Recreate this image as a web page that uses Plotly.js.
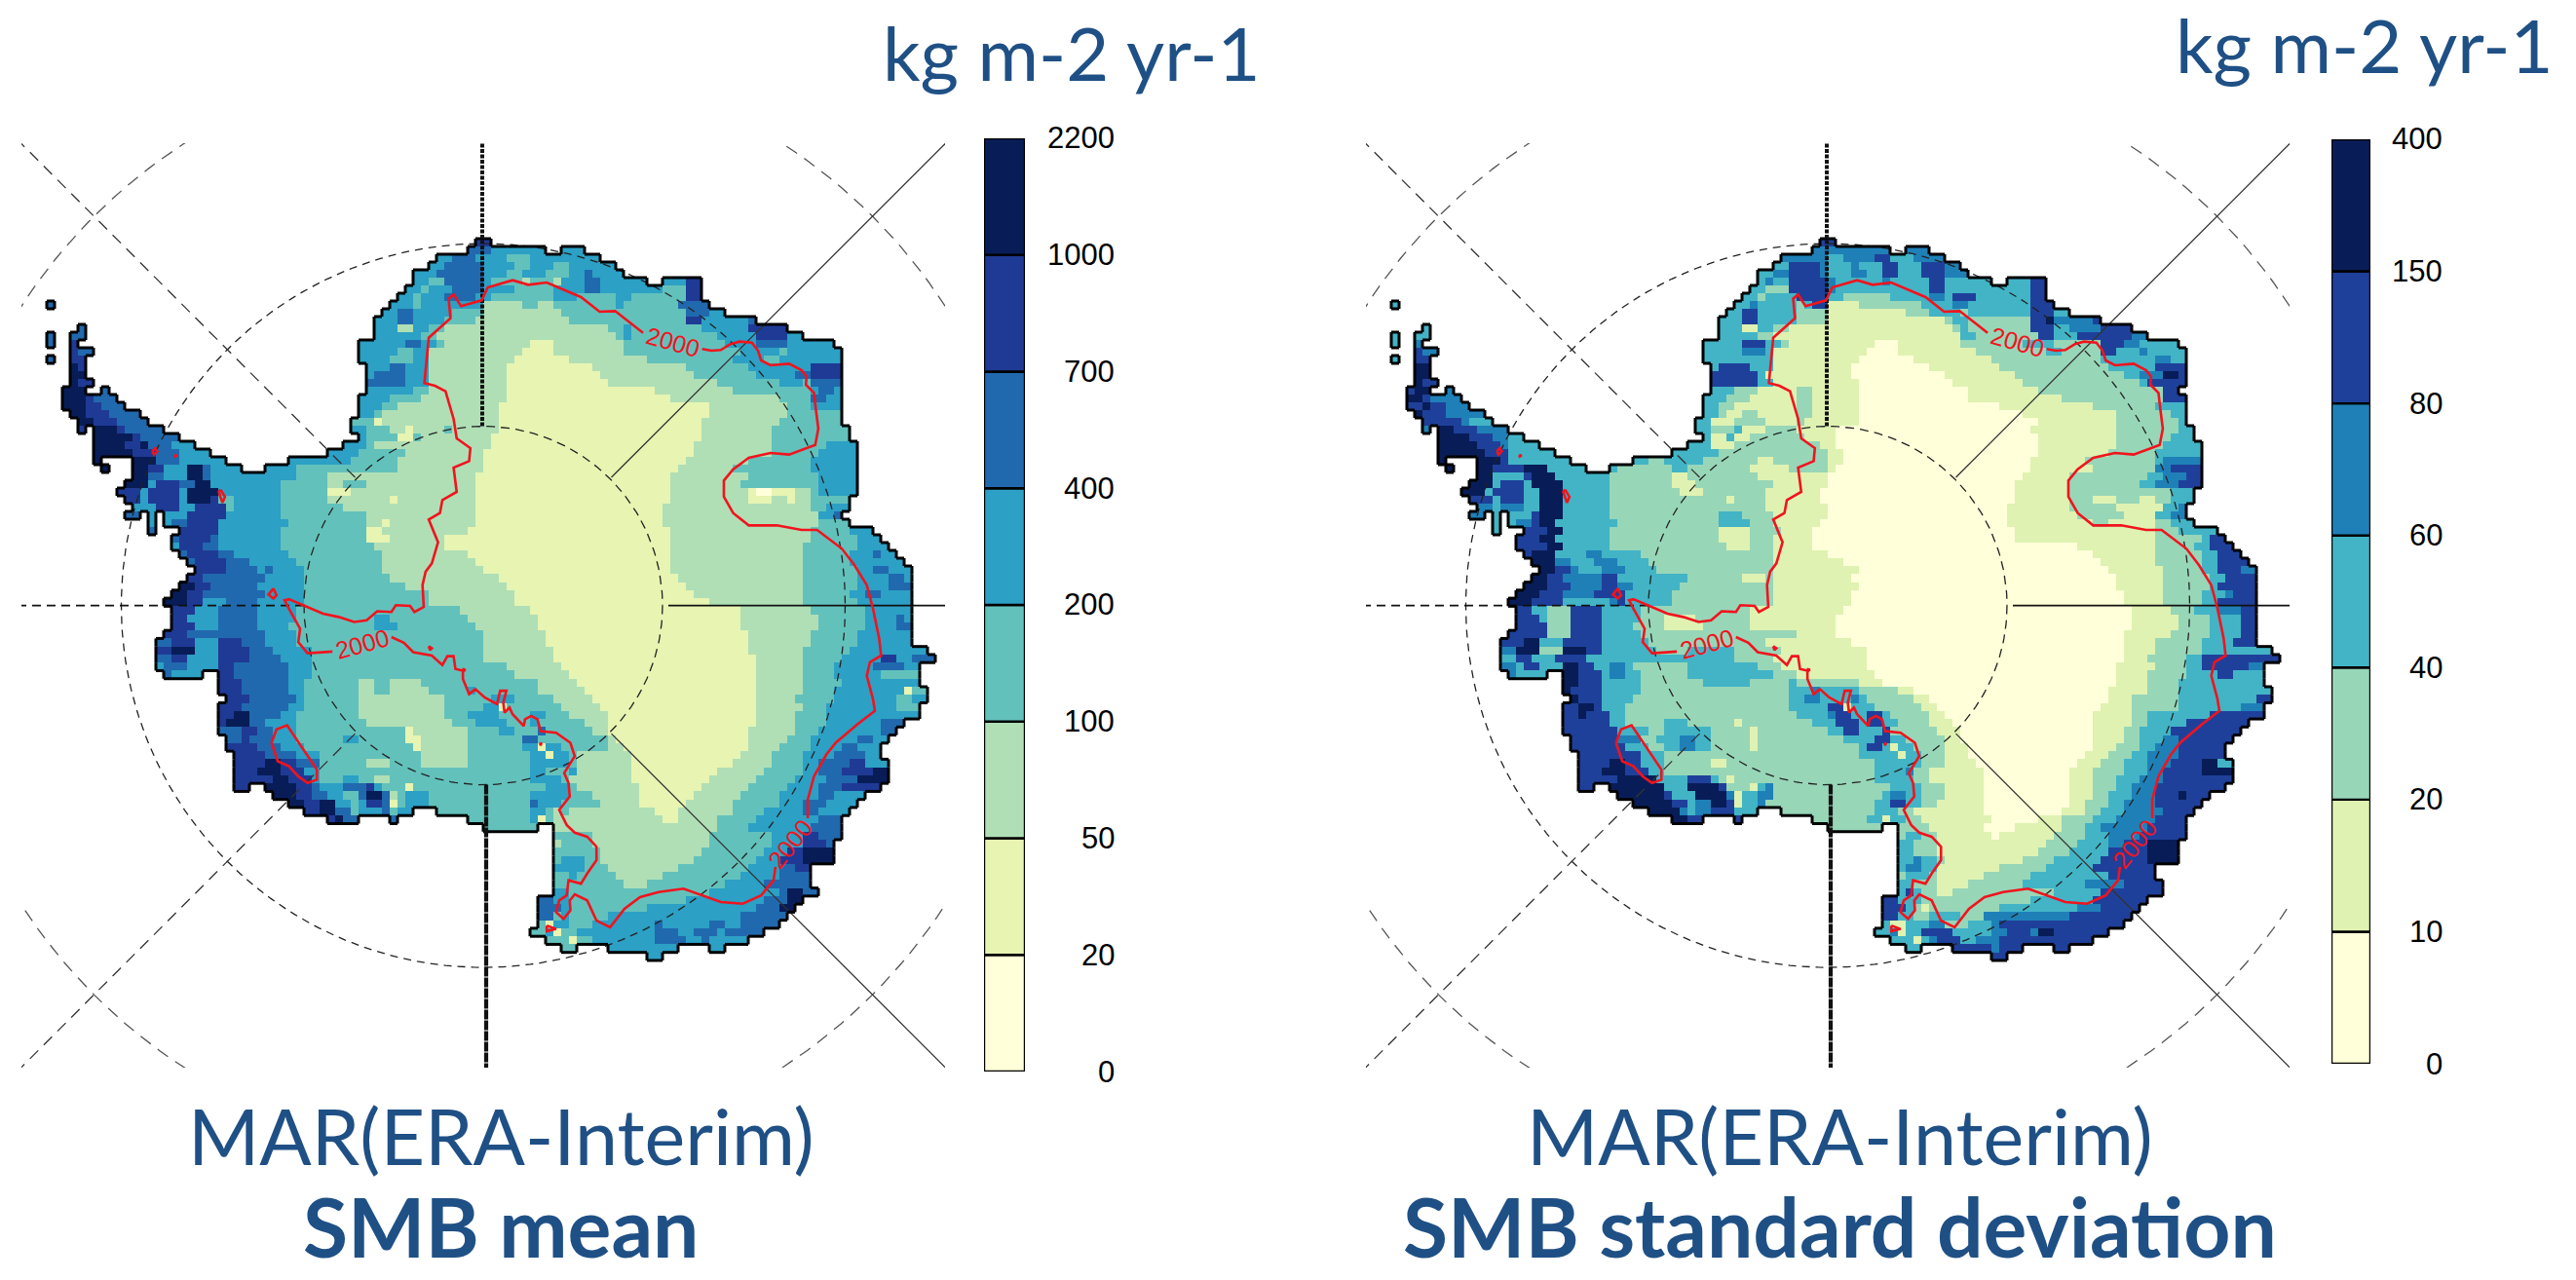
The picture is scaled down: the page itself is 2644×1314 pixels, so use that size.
<!DOCTYPE html>
<html><head><meta charset="utf-8">
<script src="https://cdn.plot.ly/plotly-3.0.1.min.js"></script>
<style>html,body{margin:0;padding:0;background:#fff}#g{width:2644px;height:1314px}</style></head>
<body><div id="g"></div>
<script>
// Each row: start column, then pairs "class endColumn"; class x = no ice
const rowsMean = [
"61 6 63","60 5 63 4 70 x 72 4 75","56 4 58 5 61 4 65 3 68 4 77","55 4 57 5 62 4 66 3 68 4 71 3 73 4 79",
"53 4 56 5 62 4 65 3 67 4 70 3 73 4 75 5 76 4 80","53 4 55 3 57 5 62 4 63 3 67 2 68 3 71 2 72 4 75 5 77 4 83 x 85 4 88 6 90",
"52 4 54 3 55 4 58 5 62 4 66 3 71 4 75 5 77 4 85 3 88 6 90","51 4 53 3 54 4 57 5 61 4 63 3 71 4 74 3 79 4 81 3 88 6 90",
"6 5 7 x 50 4 53 3 54 4 62 2 67 3 69 2 71 3 79 4 80 3 87 5 91","49 4 51 5 53 4 58 3 62 2 72 3 88 5 91 4 93",
"48 4 51 5 53 4 57 3 61 2 73 3 88 6 90 4 96 5 97","10 5 11 x 48 4 51 2 53 4 55 3 57 2 78 3 80 4 81 3 90 4 96 6 101",
"6 5 7 x 9 5 11 x 48 4 54 3 56 2 79 3 80 4 81 3 92 4 97 6 101 4 103","6 5 7 x 9 6 10 x 46 4 52 5 54 4 56 3 57 2 68 1 71 2 80 3 93 4 97 5 101 4 107",
"9 6 10 5 12 x 46 4 51 3 53 4 55 2 67 1 71 2 80 3 95 4 100 3 101 4 108","6 5 7 x 9 6 11 x 46 4 50 3 53 4 55 2 66 1 73 2 83 3 94 4 98 3 100 4 108",
"9 7 10 6 11 x 47 4 50 5 52 4 55 2 65 1 76 2 88 3 96 4 104 6 108","9 7 11 x 47 4 48 5 52 4 55 2 65 1 77 2 89 3 97 4 102 5 104 6 108",
"9 7 10 6 12 x 47 5 52 4 55 2 65 1 78 2 92 3 100 4 103 3 104 5 108","8 7 11 x 13 5 14 x 47 4 53 3 55 2 65 1 84 2 94 3 104 4 105 5 107 4 108",
"8 7 11 6 12 5 15 x 46 4 50 3 54 2 65 1 86 2 100 3 104 5 106 4 108","8 7 11 6 13 5 16 x 46 4 49 3 51 2 64 1 91 2 101 3 104 4 108",
"9 7 11 6 14 5 18 x 46 4 48 3 49 2 64 1 91 2 101 3 108","10 7 12 6 15 5 19 x 45 3 48 1 49 2 64 1 90 2 100 3 108",
"10 6 11 x 12 7 15 6 16 5 21 x 45 4 47 3 50 2 52 1 53 2 57 3 58 2 64 1 90 2 99 3 109","12 7 17 6 18 5 23 x 46 4 47 3 51 1 53 3 54 2 63 1 90 2 99 3 109",
"12 7 16 6 18 7 19 5 22 4 25 x 44 4 47 3 48 2 63 1 89 2 99 3 106 4 110","12 7 17 6 20 5 23 4 27 x 42 4 46 3 52 2 62 1 89 2 99 3 105 4 110",
"12 7 13 x 17 7 20 5 23 4 29 x 37 4 45 3 51 2 62 1 88 2 96 3 104 4 110","13 7 14 x 17 7 19 6 21 4 24 7 26 5 27 4 31 x 34 4 38 3 51 2 62 1 87 2 94 3 104 4 110",
"17 7 19 5 21 4 24 7 26 5 27 4 38 3 42 2 61 1 86 2 96 3 105 4 110","16 7 19 4 20 6 23 5 25 7 27 4 36 3 42 2 44 3 47 2 61 1 86 2 95 3 105 4 110",
"15 6 18 4 19 6 23 4 24 7 28 4 36 3 42 1 45 2 61 1 86 2 96 1 97 0 99 1 102 2 104 3 105 4 110","16 6 18 4 19 6 23 4 24 7 27 6 28 3 30 4 36 3 42 2 50 1 51 2 61 1 86 2 96 1 99 2 101 1 102 2 104 3 109",
"17 4 20 6 23 4 25 6 29 3 30 4 36 3 44 2 61 1 85 2 104 3 106 4 109","16 5 18 x 19 4 20 x 21 4 24 6 29 4 36 3 47 2 61 1 85 2 105 4 107 5 108",
"19 4 20 x 21 4 22 5 24 6 28 4 37 3 47 2 49 1 50 2 61 1 85 2 105 3 109","19 5 20 x 23 6 28 4 36 3 47 1 49 2 60 1 86 2 104 3 109 4 112",
"22 5 23 6 27 5 28 4 36 3 47 1 50 2 57 1 86 2 104 3 110 4 113","22 4 23 6 26 5 28 4 36 3 48 2 57 1 86 2 103 3 110 4 114",
"23 5 24 6 28 5 30 4 37 3 49 2 60 1 86 2 103 3 109 4 112 5 113 4 115","24 5 25 6 29 5 32 4 38 3 49 2 61 1 86 2 103 3 109 4 116",
"25 6 29 5 33 4 34 5 35 4 39 3 49 2 62 1 86 2 103 3 110 4 112 5 114 4 117","24 6 26 5 34 4 39 3 50 2 64 1 87 2 103 3 110 4 114 5 116 4 117",
"23 7 25 6 27 5 33 4 39 3 52 2 65 1 88 2 103 3 110 4 114 5 117","22 7 24 6 26 5 34 4 39 3 55 2 66 1 89 2 103 3 109 4 111 5 113 4 117",
"21 7 24 6 26 4 29 5 33 4 39 3 55 2 66 1 91 2 103 3 110 4 117","22 6 25 4 28 5 33 4 38 3 59 2 68 1 95 2 104 3 111 4 117",
"22 6 24 4 28 5 33 4 38 3 48 4 50 3 60 2 69 1 95 2 105 3 111 4 115 5 116 4 117","22 6 25 4 28 5 33 4 37 3 48 4 51 3 61 2 69 1 95 2 105 3 111 4 115 5 117",
"21 6 24 5 29 5 34 4 38 3 62 2 70 1 96 2 104 3 110 4 117","20 5 22 6 25 4 28 6 31 5 34 4 38 3 62 2 70 1 96 2 104 3 110 4 117",
"20 6 22 7 25 4 28 6 32 5 35 4 40 3 62 2 71 1 96 2 103 3 109 4 119","20 5 22 6 24 4 28 6 32 5 36 4 40 3 62 2 71 1 97 2 103 3 108 4 113 6 115 4 117 5 120",
"20 4 21 5 24 4 28 6 30 5 37 4 40 3 65 2 72 1 97 2 103 3 107 4 112 5 116 4 118","21 5 22 4 26 x 28 6 30 5 37 4 40 3 66 2 73 1 97 2 103 3 107 4 113 3 118",
"28 6 31 5 37 4 39 3 46 2 48 3 50 2 54 3 69 2 74 1 97 2 103 3 108 4 118","28 6 31 5 37 4 39 3 46 2 48 3 50 2 55 3 60 4 61 3 69 2 75 1 97 2 103 3 107 4 116 1 117 3 119",
"29 6 32 5 38 4 39 3 46 2 57 3 63 4 66 3 71 2 76 1 97 2 102 3 107 4 115 3 117 4 119","28 6 31 5 37 4 39 3 46 2 57 3 62 4 64 1 65 3 72 2 77 1 97 2 103 3 106 4 115 3 118",
"28 6 30 7 32 5 36 4 38 3 46 2 57 3 60 4 64 3 68 4 70 3 73 2 78 1 97 2 102 3 106 4 118","28 6 29 7 32 5 34 4 38 3 47 2 58 3 61 4 65 3 68 4 69 3 75 2 78 1 97 2 102 3 106 4 113 5 116",
"28 5 31 6 33 5 35 4 38 3 49 3 52 1 53 2 60 3 64 4 66 3 69 5 70 3 76 2 78 1 96 2 102 3 105 4 113 5 115","29 5 31 6 32 5 35 4 38 3 44 4 46 3 52 1 54 2 60 3 67 5 69 3 78 2 79 1 96 2 101 3 104 4 110 5 112 4 114",
"29 6 33 5 36 4 39 3 53 1 54 2 60 3 67 4 69 1 70 4 72 3 78 2 80 1 96 2 100 3 104 4 108 5 110 4 113","30 6 34 5 38 4 41 3 54 2 60 3 68 4 70 1 71 4 73 3 74 2 81 1 95 2 99 3 103 4 107 5 111 4 113",
"30 6 34 7 36 6 38 5 41 3 47 2 50 3 54 2 60 3 68 4 73 3 74 2 81 1 94 2 99 3 103 4 105 5 109 6 111 4 114","30 6 33 7 36 6 39 4 41 3 68 4 70 3 73 4 74 2 81 1 92 2 98 3 103 4 105 5 108 6 112 7 114",
"30 6 35 7 37 6 40 4 41 3 44 4 46 3 48 2 50 3 68 4 72 3 73 2 81 1 91 2 97 3 102 4 106 5 110 7 114","30 6 32 x 34 7 38 6 40 5 41 4 44 5 47 6 48 4 49 3 52 1 53 3 70 4 73 3 74 2 82 1 90 2 96 3 101 4 105 5 108 6 113",
"35 7 38 6 40 5 42 4 44 3 46 5 47 7 49 5 50 2 51 3 52 4 55 3 68 4 73 3 76 2 82 1 89 2 95 3 100 4 105 5 107 4 111","37 7 39 6 41 7 43 4 45 3 46 4 47 6 49 5 50 1 51 3 52 4 55 3 68 5 69 4 72 3 77 2 82 1 88 2 94 3 100 4 103 5 106 4 110",
"39 6 41 7 43 5 45 3 46 4 49 5 50 3 51 4 53 x 56 3 68 4 70 3 71 2 72 3 73 2 84 1 87 2 94 3 98 4 103 5 105 4 109","42 6 43 7 44 5 46 x 50 5 51 x 60 3 68 4 69 1 70 3 71 2 85 1 87 2 92 3 97 4 105 5 108",
"62 3 69 x 71 2 92 3 96 4 104 5 108","71 3 76 2 91 3 99 4 103 6 105 5 108",
"71 2 72 3 76 2 91 3 99 4 103 6 106 5 107","71 3 77 2 90 3 98 4 101 6 103 7 107",
"71 3 72 4 75 3 77 2 89 3 97 4 100 6 103 7 107","71 4 75 3 78 2 87 3 96 4 100 5 102 6 104",
"71 3 73 4 74 3 79 2 85 3 95 4 100 5 104","71 3 80 2 83 3 93 4 98 5 104",
"71 4 73 3 91 4 100 5 101 7 103 5 105","69 5 71 4 73 3 88 4 98 5 101 7 103",
"69 5 72 4 73 3 83 4 97 5 100 7 102","69 5 71 3 72 4 73 3 78 4 95 5 101",
"69 3 70 1 71 4 73 3 76 4 84 5 85 4 91 5 93 4 95 5 100","68 3 70 4 71 1 72 3 74 4 84 5 87 4 89 5 92 4 93 5 98",
"70 3 73 1 74 3 76 4 84 5 88 4 90 5 91 4 96","72 3 74 x 78 4 87 x 91 4 93","83 4 85"];
const rowsStd = [
"61 5 63","60 4 70 x 72 4 75","56 4 62 3 64 4 68 5 70 3 73 4 77","55 3 57 5 61 4 62 3 65 4 66 3 69 5 71 3 74 5 77 4 79",
"53 3 55 4 57 5 61 4 62 3 65 4 67 3 69 5 71 3 74 5 77 4 80","53 3 54 4 55 3 57 5 62 4 63 3 69 4 70 3 75 5 77 3 83 x 85 3 88 5 90",
"52 3 54 2 57 5 62 4 63 3 75 5 77 3 88 5 90","51 3 53 2 54 3 58 5 62 3 64 2 70 3 75 4 77 3 78 5 81 3 88 5 90",
"6 3 7 x 50 3 52 4 53 3 58 2 59 3 60 5 62 1 66 2 74 3 78 4 80 3 88 5 91","49 3 51 5 53 3 58 2 62 1 72 2 75 3 79 2 80 3 88 5 91 3 93",
"48 3 51 5 53 3 58 2 62 1 77 2 78 3 80 2 88 5 90 6 91 4 96 5 97","10 3 11 x 48 3 51 1 53 3 55 2 57 1 78 2 79 3 80 2 88 5 91 3 93 4 97 5 101",
"6 3 7 x 9 3 11 x 48 3 53 2 55 1 79 3 81 2 89 5 91 3 94 5 101 4 103","6 3 7 x 9 4 10 x 46 3 51 5 54 3 56 2 57 1 68 0 71 1 79 2 87 3 91 2 97 5 100 4 102 3 107",
"9 5 10 4 12 x 46 3 51 4 54 3 55 1 67 0 71 1 81 2 90 3 92 2 97 5 99 3 102 4 103 3 108","6 3 7 x 9 5 11 x 46 3 55 1 66 0 73 1 83 2 97 3 104 4 106 3 108",
"9 6 11 x 47 3 48 5 52 3 55 1 65 0 75 1 84 2 98 3 104 5 108","9 6 11 x 47 5 53 3 54 1 65 0 77 1 86 2 100 3 102 4 105 6 107 5 108",
"9 6 10 5 12 x 47 5 53 3 55 1 66 0 78 1 87 2 102 3 103 5 108","8 5 9 6 11 x 13 4 14 x 47 3 50 2 53 1 58 2 60 1 66 0 80 1 89 2 105 5 107",
"8 6 10 5 11 4 15 x 46 3 49 2 52 1 58 2 60 1 66 0 80 1 92 2 105 5 108","8 5 10 6 11 5 13 4 16 x 46 3 48 2 50 1 58 2 60 1 66 0 84 1 96 2 104 3 108",
"9 6 10 5 13 4 18 x 46 3 48 2 49 1 51 2 53 1 58 2 60 1 66 0 87 1 99 2 106 3 108","10 5 15 4 16 3 19 x 45 3 47 1 50 2 54 1 58 2 59 1 66 0 89 1 99 2 107 3 108",
"10 4 11 x 12 6 14 5 17 4 21 x 45 3 47 2 50 3 51 1 54 2 58 1 63 0 88 1 99 2 107 3 109","12 6 16 5 19 4 21 3 23 x 46 3 47 1 49 3 50 1 52 2 59 1 63 0 89 1 99 2 106 3 109",
"12 6 17 5 20 4 21 3 25 x 44 3 47 1 50 2 61 1 63 0 89 1 99 2 105 3 110","12 6 18 5 21 3 27 x 42 3 48 2 62 1 64 0 89 1 98 2 104 3 110",
"12 6 13 x 17 6 20 5 21 3 29 x 37 3 39 2 41 3 46 2 53 1 55 2 62 1 64 0 88 1 95 2 104 3 105 4 110","13 6 14 x 17 6 19 5 23 6 26 3 31 x 34 3 35 2 42 3 44 2 52 1 57 2 62 1 63 0 88 1 96 2 104 4 106 5 110",
"17 6 19 3 23 5 24 6 27 3 34 2 42 1 44 2 53 1 62 0 87 1 93 2 103 3 105 4 108 5 110","16 6 19 3 20 5 23 3 24 6 28 3 34 2 42 1 45 2 55 1 62 0 86 1 93 2 102 3 104 4 107 5 110",
"15 6 18 3 19 5 23 3 25 6 28 3 34 2 43 1 46 2 54 1 61 0 86 1 93 2 106 3 109","16 5 19 3 20 5 23 3 25 6 28 3 34 2 49 1 50 2 54 1 61 0 86 1 93 2 96 1 99 2 102 1 104 2 106 3 109",
"17 4 19 3 20 4 23 3 25 6 28 3 34 2 54 1 62 0 85 1 93 2 99 1 105 3 107 4 108","16 4 18 x 19 3 20 x 21 3 24 5 25 6 28 3 34 2 48 3 51 2 55 1 62 0 85 1 94 2 100 1 104 3 106 4 108",
"19 3 20 x 21 3 22 4 24 5 25 6 27 3 35 2 48 3 52 2 55 1 61 0 85 1 96 2 98 1 104 2 106 3 109","19 3 20 x 23 5 26 6 28 3 34 2 48 1 52 2 56 1 60 0 86 1 104 2 107 3 112",
"22 5 25 6 27 3 34 2 48 1 52 2 55 1 60 0 86 1 104 2 110 3 111 5 113","22 5 26 6 28 3 34 2 49 1 52 2 55 1 60 0 94 1 104 2 109 3 111 5 114",
"23 5 24 6 27 3 31 4 33 3 38 2 55 1 62 0 96 1 104 2 110 3 112 5 115","24 6 27 4 29 3 32 4 35 3 39 2 55 1 64 0 97 1 104 2 110 3 112 5 116",
"25 6 27 5 29 4 30 3 33 4 36 3 40 2 55 1 66 0 98 1 105 2 110 3 112 5 115 4 117","24 6 26 5 28 4 33 5 35 3 44 2 51 1 54 2 55 1 65 0 99 1 105 2 111 3 113 5 117",
"23 6 26 5 29 4 33 5 35 4 37 3 43 2 55 1 66 0 99 1 105 2 111 3 112 5 117","22 6 25 5 28 4 32 5 36 3 42 2 55 1 65 0 100 1 105 2 110 3 113 4 114 5 117",
"21 6 24 5 28 3 34 4 35 5 36 3 42 2 55 1 65 0 100 1 105 2 110 3 112 5 117","22 5 24 3 26 2 29 5 33 3 38 2 52 1 64 0 101 1 106 2 109 3 112 4 115 5 117",
"22 5 25 3 26 2 29 5 33 3 38 2 41 1 45 2 52 1 63 0 101 1 107 2 111 3 115 5 117","22 5 26 2 29 5 33 3 37 2 41 1 46 2 52 1 63 0 101 1 107 2 111 3 115 5 117",
"21 5 26 2 29 5 33 3 38 2 58 1 63 0 100 1 106 2 111 3 115 5 117","20 5 23 6 25 3 28 5 33 3 39 2 54 1 65 0 100 1 104 2 110 3 114 5 117",
"20 4 22 6 25 2 28 6 31 5 33 3 40 2 44 3 50 2 56 1 67 0 100 1 104 2 110 3 119","20 3 22 5 24 3 27 5 31 3 39 3 50 2 55 1 67 0 100 1 103 2 108 3 110 5 120",
"20 4 22 3 23 5 25 3 28 6 30 5 32 3 34 4 36 3 37 2 44 3 53 2 56 1 67 0 99 1 104 2 108 3 110 5 116 4 118","21 4 22 3 26 x 28 6 30 5 33 3 34 4 36 3 38 2 44 3 55 2 58 1 68 0 99 1 103 2 108 3 112 5 114 3 118",
"28 6 30 5 33 3 38 2 46 3 52 2 57 3 58 2 66 1 69 0 99 1 103 2 107 3 118","28 6 29 5 33 3 38 2 57 3 60 4 61 3 66 2 71 1 73 0 98 1 103 2 107 3 119",
"29 6 30 5 33 3 37 2 57 3 59 4 61 3 65 4 66 3 67 2 73 1 75 0 98 1 101 2 107 3 117 5 119","28 5 30 6 32 5 33 3 36 2 57 3 62 5 64 1 65 3 68 2 74 1 76 0 97 1 101 2 107 3 115 4 118",
"28 5 30 6 31 5 34 3 36 2 58 3 62 4 63 5 65 3 67 5 69 3 70 2 75 1 77 0 96 1 101 2 103 3 111 5 118","28 5 34 3 36 2 41 3 44 2 50 1 51 2 60 3 63 5 66 3 67 5 69 3 71 2 75 1 78 0 96 1 101 2 103 3 108 5 116",
"28 5 35 3 39 2 41 3 47 2 52 1 53 2 62 3 64 5 66 3 69 5 70 2 76 1 79 0 96 1 100 2 102 3 106 5 115","29 5 35 4 38 2 40 3 43 4 45 3 47 2 52 1 53 2 64 3 68 5 70 3 72 2 77 1 79 0 96 1 100 2 102 3 105 4 107 5 114",
"29 5 36 3 39 2 41 3 43 4 45 3 47 2 52 1 53 2 66 3 67 5 69 3 70 1 71 3 73 2 77 1 80 0 96 1 99 2 102 3 104 4 107 5 113","30 5 38 3 41 2 66 3 71 1 72 3 74 2 77 1 80 0 95 1 98 2 101 3 103 4 107 5 113",
"30 5 34 6 36 5 38 3 41 2 47 1 49 2 68 3 74 2 77 1 81 0 94 1 97 2 100 3 103 4 106 5 110 6 112 3 114","30 5 33 6 36 5 39 3 41 2 68 3 72 4 73 2 75 1 82 0 93 1 96 2 100 3 103 4 105 5 110 6 114",
"30 5 35 6 40 3 44 5 47 3 48 2 49 1 50 2 68 3 73 2 75 1 82 0 93 1 96 2 99 3 102 4 105 5 114","30 5 32 x 34 6 41 3 44 6 48 5 49 2 52 1 53 3 54 4 55 2 70 3 74 2 77 1 82 0 93 1 96 2 99 3 101 4 104 5 113",
"35 6 41 5 42 3 45 6 49 4 50 1 51 3 53 4 55 2 69 3 70 4 72 3 74 2 77 1 82 0 93 1 96 2 98 3 101 4 104 5 107 6 108 5 111","37 6 42 5 44 3 45 4 47 6 49 5 50 1 51 3 53 4 54 2 68 3 70 5 72 3 74 2 76 1 82 0 93 1 95 2 98 3 100 4 104 5 110",
"39 6 43 4 44 3 45 4 47 5 50 3 53 x 56 2 68 3 71 2 73 1 82 0 92 1 95 2 97 3 100 4 105 5 109","42 6 44 5 46 x 50 5 51 x 60 2 67 3 69 1 70 3 72 2 74 1 83 0 89 1 92 2 96 3 99 4 104 5 108",
"62 2 69 x 71 2 75 1 82 0 86 1 92 2 95 3 97 4 103 5 108","71 2 72 3 74 2 76 1 83 0 84 1 91 2 95 3 98 4 102 5 108",
"71 3 73 2 76 1 90 2 94 3 98 4 100 5 103 6 107","71 3 73 2 76 1 89 2 93 3 98 5 103 6 107",
"71 3 73 4 74 3 76 2 77 1 87 2 91 3 97 5 103 6 107","71 3 72 4 74 3 76 1 84 2 90 3 96 5 104",
"71 2 72 3 75 2 76 1 82 2 88 3 98 5 104","71 3 73 2 76 1 80 2 87 3 95 4 100 5 105",
"71 3 72 5 73 3 74 2 76 1 78 2 91 3 97 5 105","69 5 71 3 74 2 88 3 96 5 103",
"69 5 72 3 73 2 74 1 75 2 84 3 94 4 97 5 102","69 5 71 3 73 2 75 3 79 2 82 4 93 5 101",
"69 3 70 1 72 3 75 4 77 2 80 3 83 4 84 5 100","68 3 70 4 71 1 72 3 74 5 78 3 83 4 85 5 88 4 89 6 91 5 98",
"70 3 73 1 74 3 75 4 76 5 79 3 81 4 84 5 96","72 3 74 x 78 5 83 4 84 5 87 x 91 5 93","83 5 85"];
const colorsMean = ["#ffffd9","#e7f4b2","#b0dfb6","#63c1bc","#2ca0c5","#2169ae","#1f3a95","#081d58"];
const colorsStd  = ["#ffffd9","#dff2b2","#98d6b8","#42b4c6","#1f80b8","#1f409a","#081d58"];
const ticksMean = ["0","20","50","100","200","400","700","1000","2200"];
const ticksStd  = ["0","10","20","40","60","80","150","400"];
// 2000 m elevation contour, map units
const contourMain = [
[1130,715],[1145,720],[1160,718],[1175,700],[1190,692],[1210,695],[1220,720],[1225,750],[1240,765],[1270,760],[1290,780],[1298,800],[1297,825],[1310,850],[1313,900],[1317,960],[1312,1010],[1270,1040],[1240,1035],[1205,1050],[1180,1085],[1165,1120],[1165,1170],[1180,1220],[1205,1258],[1250,1258],[1290,1272],[1315,1272],[1355,1330],[1375,1380],[1395,1440],[1405,1510],[1415,1600],[1418,1650],[1400,1670],[1395,1710],[1405,1780],[1408,1815],[1380,1855],[1345,1910],[1330,1945],[1310,2010],[1300,2080],[1300,2135]];
const contourEast = [[1248,2280],[1245,2320],[1225,2365],[1195,2390],[1160,2385],[1130,2365],[1100,2345],[1060,2355],[1030,2370],[1005,2405],[982,2460],[965,2445],[960,2440],[945,2380],[925,2362],[917,2380],[918,2410],[907,2435],[895,2415],[900,2380],[912,2365],[915,2320],[935,2330],[945,2300],[960,2260],[960,2220],[945,2190],[925,2178],[912,2155],[900,2110],[917,2070],[915,2030],[908,2000],[925,1950],[918,1910],[895,1880],[870,1875],[865,1840],[855,1830],[845,1840],[843,1860],[825,1825],[820,1805],[812,1820],[810,1790],[815,1755],[805,1755],[800,1795],[780,1775],[765,1750],[755,1765],[745,1720],[745,1695],[733,1690],[730,1652],[720,1652],[712,1678],[695,1650],[665,1640],[650,1612],[630,1595]];
const contourWest = [[535,1638],[495,1643],[480,1610],[483,1570],[465,1510],[458,1485],[465,1482],[487,1500],[520,1525],[545,1535],[570,1550],[590,1545],[607,1518],[630,1520],[637,1500],[660,1502],[667,1520],[682,1505],[680,1440],[685,1400],[695,1375],[705,1310],[690,1240],[708,1220],[712,1180],[735,1155],[730,1080],[755,1060],[757,1020],[735,990],[730,930],[717,845],[700,828],[683,820],[690,680],[725,620],[722,560],[730,547],[742,583],[775,565],[785,525],[825,503],[850,517],[880,510],[910,535],[935,555],[965,600],[990,598],[1035,665]];
const contourLoops = [
[[437,1910],[445,1870],[462,1858],[470,1880],[485,1920],[510,1990],[510,2020],[495,2030],[480,2010],[465,1980],[447,1965],[437,1910]],
[[245,1030],[250,1020],[253,1030],[248,1040],[245,1030]],
[[355,1148],[362,1170],[358,1188],[352,1155],[355,1148]],
[[440,1450],[445,1470],[440,1480],[432,1468],[440,1450]],
[[880,2455],[895,2465],[880,2472],[880,2455]],
[[690,1622],[695,1628],[692,1634],[690,1622]],[[744,1690],[749,1692],[746,1696],[744,1690]],[[869,1910],[871,1913],[870,1918],[869,1910]],[[281,1041],[285,1043],[282,1046],[281,1041]]];
const contourLabels = [[1083,692,15.5],[583,1615,-15.5],[1272,2210,-51]];
const ringRadii = [184,371.5,565];

const W=2644,H=1314,SX=1.568,SY=3;          // map units per screen pixel
const CELLX=8*SX,TOPY=375,CELLY=8*SY;
const PIVOT=1380,LOWER=1.033;               // southern half of the map is drawn slightly taller
const warp=y=>y<=PIVOT?y:PIVOT+(y-PIVOT)*LOWER;
const rowY=r=>warp(TOPY+r*CELLY);
const CX=496*SX,CY=(621.6-120)*SY;
const BOX={l:22,r:970,t:147,b:1096};
const OFFSET=1380;
const navy="#1f5085";
function grid(rows){
  const nc=121,z=[];
  rows.forEach(s=>{
    const t=s.split(" "),r=new Array(nc).fill(null);let c=+t[0];
    for(let i=1;i<t.length;i+=2){const e=+t[i+1];for(;c<e;c++) if(t[i]!=="x") r[c]=+t[i]+0.5;}
    z.push(r);
  });
  return z;
}
function outline(z){
  const X=[],Y=[];const f=(r,c)=>z[r]&&z[r][c]!=null;
  const seg=(a,b,c,d)=>{X.push(a*CELLX,c*CELLX,null);Y.push(rowY(b),rowY(d),null);};
  z.forEach((row,r)=>row.forEach((v,c)=>{ if(v==null)return;
    if(!f(r-1,c))seg(c,r,c+1,r); if(!f(r+1,c))seg(c,r+1,c+1,r+1);
    if(!f(r,c-1))seg(c,r,c,r+1); if(!f(r,c+1))seg(c+1,r,c+1,r+1);
  }));
  return {x:X,y:Y};
}
function ring(r){const x=[],y=[];for(let d=0;d<=360;d+=1.5){const a=d*Math.PI/180;x.push(CX+r*SX*Math.cos(a));y.push(CY+r*SY*Math.sin(a));}return {x,y};}
function spoke(deg,r0,r1,ox=0,oy=0){const a=deg*Math.PI/180;return {
  x:[CX+ox*SX+r0*SX*Math.cos(a),CX+ox*SX+r1*SX*Math.cos(a)],
  y:[CY+oy*SY+r0*SY*Math.sin(a),CY+oy*SY+r1*SY*Math.sin(a)]};}
const traces=[],annotations=[];
const txt=(t,px,py,size,bold,extra)=>annotations.push(Object.assign({text:bold?"<b>"+t+"</b>":t,xref:"paper",yref:"paper",x:px/W,y:1-py/H,showarrow:false,xanchor:"center",yanchor:"middle",font:{family:"Lato, sans-serif",size:size,color:navy}},extra||{}));
function addMap(rows,colors,xa,ya){
  const z=grid(rows),n=colors.length,cs=[];
  colors.forEach((c,i)=>{cs.push([i/n,c],[(i+1)/n,c]);});
  const base={xaxis:xa,yaxis:ya,hoverinfo:"skip",showlegend:false};
  const xs=z[0].map((_,c)=>(c+0.5)*CELLX), ys=z.map((_,r)=>rowY(r+0.5));
  traces.push(Object.assign({type:"heatmap",z,x:xs,y:ys,zmin:0,zmax:n,colorscale:cs,showscale:false,zsmooth:false},base));
  const ln=(g,o)=>traces.push(Object.assign({type:"scatter",mode:"lines",x:g.x,y:g.y,line:o},base));
  const ol=outline(z);
  ringRadii.forEach((r,i)=>ln(ring(r),{color:i==2?"#555":"#222",width:1.3,dash:i==2?"13px,9px":(i==1?"8px,6px":"9px,6px")}));
  [[225,"#333",1.3,"12px,8px"],[135,"#333",1.3,"12px,8px"]].forEach(s=>ln(spoke(s[0],186,900),{color:s[1],width:s[2],dash:s[3]}));
  [[315,"#333",1.3],[45,"#333",1.3]].forEach(s=>ln(spoke(s[0],186,900),{color:s[1],width:s[2]}));
  ln(spoke(180,184,700),{color:"#111",width:1.6,dash:"9px,6px"});
  ln(spoke(0,190,700),{color:"#111",width:1.6});
  ln(ol,{color:"#000",width:3});
  ln(spoke(270,184,700,-1),{color:"#111",width:4,dash:"4px,1.5px"});
  ln(spoke(90,184,700,3),{color:"#111",width:4.2,dash:"10px,1px"});
  const red={color:"#f0141e",width:2.6};
  [contourMain,contourEast,contourWest,...contourLoops].forEach(p=>ln({x:p.map(q=>q[0]),y:p.map(q=>warp(q[1]))},red));
  contourLabels.forEach(l=>annotations.push({text:"2000",xref:xa,yref:ya,x:l[0],y:warp(l[1]),textangle:l[2],showarrow:false,font:{family:"Liberation Sans, Arial",size:25,color:"#f0141e"}}));
}
function addBar(colors,ticks,xa,ya,labelX){
  colors.forEach((c,i)=>traces.push({type:"bar",x:[0],y:[1],base:[i],width:[1],xaxis:xa,yaxis:ya,marker:{color:c,line:{color:"#000",width:2.4}},hoverinfo:"skip",showlegend:false}));
  ticks.forEach((t,i)=>annotations.push({text:t,xref:"paper",yref:ya,x:labelX/W,y:i,xanchor:"right",yanchor:"middle",showarrow:false,font:{family:"Liberation Sans, Arial",size:31,color:"#000"}}));
}
addMap(rowsMean,colorsMean,"x","y");
addMap(rowsStd,colorsStd,"x2","y2");
addBar(colorsMean,ticksMean,"x3","y3",1146);
addBar(colorsStd,ticksStd,"x4","y4",2509);
txt("kg m-2 yr-1",1100,54,76,false);
txt("kg m-2 yr-1",2427,46,76,false);
txt("MAR(ERA-Interim)",514,1165,79,false);
txt("MAR(ERA-Interim)",1888,1165,79,false);
txt("SMB mean",514,1258,84,true);
txt("SMB standard deviation",1888,1258,84,true);
const hide={visible:false,fixedrange:true};
const dx=(a,b)=>[a/W,b/W],dy=(a,b)=>[1-b/H,1-a/H];
const mapX=o=>Object.assign({},hide,{domain:dx(BOX.l+o,BOX.r+o),range:[BOX.l*SX,BOX.r*SX]});
const mapY=()=>Object.assign({},hide,{domain:dy(BOX.t,BOX.b),range:[(BOX.b-120)*SY,(BOX.t-120)*SY]});
const layout={width:W,height:H,margin:{l:0,r:0,t:0,b:0},paper_bgcolor:"#fff",plot_bgcolor:"rgba(0,0,0,0)",barmode:"overlay",annotations,
  xaxis:mapX(0),yaxis:mapY(),
  xaxis2:Object.assign(mapX(OFFSET),{anchor:"y2"}),yaxis2:Object.assign(mapY(),{anchor:"x2"}),
  xaxis3:Object.assign({},hide,{domain:dx(1010,1052),range:[-0.5,0.5],anchor:"y3"}),
  yaxis3:Object.assign({},hide,{domain:dy(142,1100),range:[0,colorsMean.length],anchor:"x3"}),
  xaxis4:Object.assign({},hide,{domain:dx(2393,2433),range:[-0.5,0.5],anchor:"y4"}),
  yaxis4:Object.assign({},hide,{domain:dy(143,1092),range:[0,colorsStd.length],anchor:"x4"})};
Plotly.newPlot("g",traces,layout,{displayModeBar:false,staticPlot:true});
</script></body></html>
